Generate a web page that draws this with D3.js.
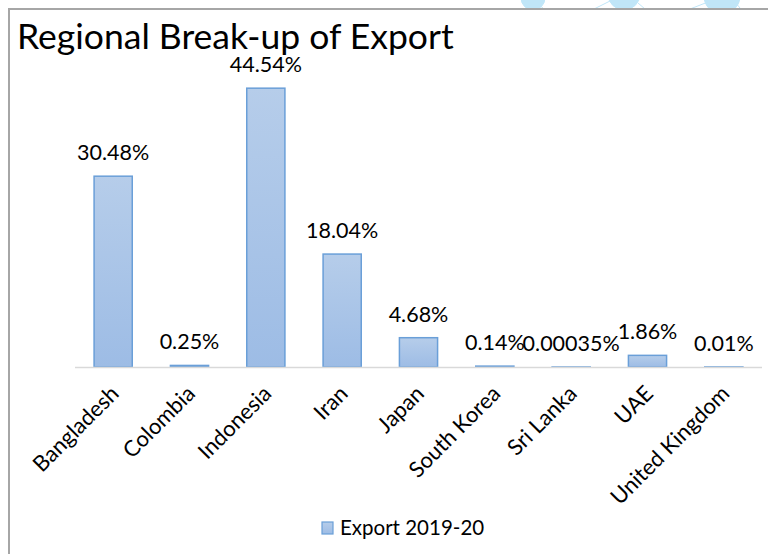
<!DOCTYPE html>
<html>
<head>
<meta charset="utf-8">
<script src="https://cdn.jsdelivr.net/npm/d3@7"></script>
<style>
  html, body { margin: 0; padding: 0; background: #fff; }
  svg { display: block; }
</style>
</head>
<body>
<svg id="chart" width="768" height="554"></svg>
<script>
const categories = ["Bangladesh", "Colombia", "Indonesia", "Iran", "Japan", "South Korea", "Sri Lanka", "UAE", "United Kingdom"];
const values = [30.48, 0.25, 44.54, 18.04, 4.68, 0.14, 0.00035, 1.86, 0.01];
const valueLabels = ["30.48%", "0.25%", "44.54%", "18.04%", "4.68%", "0.14%", "0.00035%", "1.86%", "0.01%"];
const seriesName = "Export 2019-20";
const titleText = "Regional Break-up of Export";

const svg = d3.select("#chart");
const font = "Lato, 'Open Sans', sans-serif";

const defs = svg.append("defs");
defs.append("clipPath").attr("id", "topStrip")
  .append("rect").attr("x", 0).attr("y", 0).attr("width", 768).attr("height", 8);

// background decoration along the top edge
const deco = svg.append("g").attr("clip-path", "url(#topStrip)")
  .attr("fill", "#c0e6f8").attr("stroke", "#c0e6f8");
[[533, -2, 12], [624, -6, 16], [722, -4, 18]].forEach(([cx, cy, r]) => {
  deco.append("circle").attr("cx", cx).attr("cy", cy).attr("r", r);
});
[[538, 4, 544, 9], [594, 9, 612, 0], [638, 3, 645, 9], [690, 9, 708, 2], [735, 2, 740, 8]].forEach(([x1, y1, x2, y2]) => {
  deco.append("line").attr("x1", x1).attr("y1", y1).attr("x2", x2).attr("y2", y2).attr("stroke-width", 1);
});

// frame
svg.append("path")
  .attr("d", "M9,554 L9,9 L768,9")
  .attr("fill", "none").attr("stroke", "#a6a6a6").attr("stroke-width", 2);

const x = d3.scaleBand().domain(categories).range([75, 762]).paddingInner(0.5).paddingOuter(0.25);
const y = d3.scaleLinear().domain([0, 50]).range([367, 54]);

const grad = defs.append("linearGradient").attr("id", "barFill").attr("x1", 0).attr("y1", 0).attr("x2", 0).attr("y2", 1);
grad.append("stop").attr("offset", "0%").attr("stop-color", "#b6cdea");
grad.append("stop").attr("offset", "100%").attr("stop-color", "#9dbce5");

// bars
svg.append("g").selectAll("rect").data(categories).join("rect")
  .attr("x", d => x(d))
  .attr("y", (d, i) => y(values[i]))
  .attr("width", x.bandwidth())
  .attr("height", (d, i) => y(0) - y(values[i]))
  .attr("fill", "url(#barFill)")
  .attr("stroke", "#6a9fd8")
  .attr("stroke-width", 1.5);

// category axis
const xAxis = svg.append("g").attr("transform", `translate(0,${y(0)})`)
  .call(d3.axisBottom(x).tickSize(0).tickPadding(0));
xAxis.select(".domain").attr("stroke", "#d9d9d9").attr("stroke-width", 1.5).attr("d", "M75,0.5H762");
xAxis.selectAll(".tick text")
  .attr("font-family", font).attr("font-size", 22).attr("fill", "#000")
  .attr("text-anchor", "end")
  .attr("dy", null)
  .attr("transform", "translate(7,28) rotate(-45)");

// value labels
svg.append("g").selectAll("text").data(categories).join("text")
  .attr("x", d => x(d) + x.bandwidth() / 2)
  .attr("y", (d, i) => y(values[i]) - 16)
  .attr("text-anchor", "middle")
  .attr("font-family", font).attr("font-size", 21.5).attr("fill", "#000")
  .text((d, i) => valueLabels[i]);

// title
svg.append("text").attr("x", 17).attr("y", 49)
  .attr("font-family", font).attr("font-size", 35.5).attr("fill", "#000")
  .text(titleText);

// legend
const legend = svg.append("g").attr("transform", "translate(322,522)");
legend.append("rect").attr("width", 11).attr("height", 12)
  .attr("fill", "url(#barFill)").attr("stroke", "#6a9fd8").attr("stroke-width", 1.2);
legend.append("text").attr("x", 18).attr("y", 13)
  .attr("font-family", font).attr("font-size", 20.5).attr("fill", "#000")
  .text(seriesName);
</script>
</body>
</html>
